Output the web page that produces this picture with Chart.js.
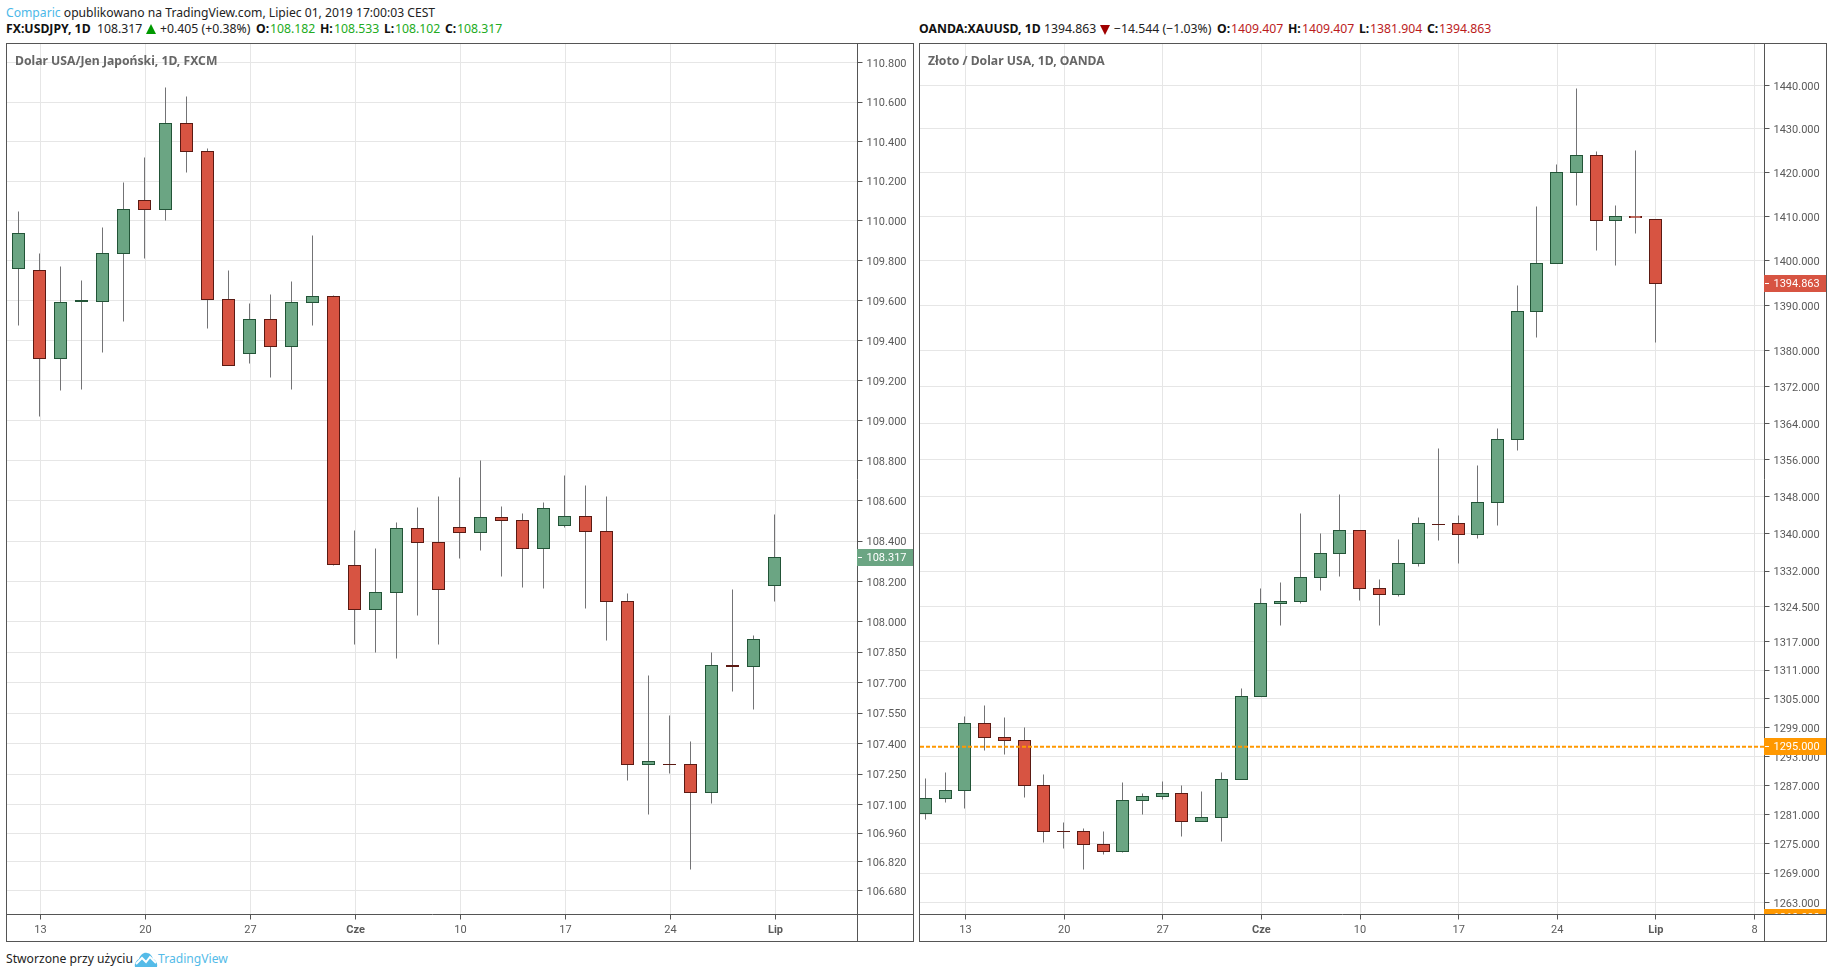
<!DOCTYPE html>
<html lang="pl">
<head>
<meta charset="utf-8">
<title>USDJPY / XAUUSD</title>
<script src="https://cdn.jsdelivr.net/npm/chart.js@4/dist/chart.umd.js"></script>
<style>
html,body{margin:0;padding:0;background:#fff;width:1833px;height:978px;overflow:hidden}
body{position:relative;font-family:"Noto Sans","Open Sans",sans-serif;color:#222}
.t{position:absolute;white-space:nowrap;font-size:12.25px;line-height:16px}
.b{font-weight:700;color:#111}
.g{color:#22ab22}.r{color:#bb1c1c}
.frame{position:absolute;top:43px;width:908px;height:899px;box-sizing:border-box;border:1px solid #555}
.frame canvas{position:absolute;left:0;top:0;display:block}
.title{position:absolute;top:51.5px;font-weight:700;font-size:12.2px;line-height:18px;color:#666;white-space:nowrap}
.tri{position:absolute;width:0;height:0;border-left:5.2px solid transparent;border-right:5.2px solid transparent}
</style>
</head>
<body>
<div class="t" style="left:6px;top:5px;font-size:12.15px;color:#222"><span style="color:#4cb8e8">Comparic</span> opublikowano na TradingView.com, Lipiec 01, 2019 17:00:03 CEST</div>

<div class="t b" style="left:6px;top:21px">FX:USDJPY, 1D</div>
<div class="t" style="left:97px;top:21px">108.317</div>
<div class="tri" style="left:146px;top:24px;border-bottom:10px solid #009900"></div>
<div class="t" style="left:160px;top:21px">+0.405 (+0.38%)</div>
<div class="t b" style="left:256px;top:21px">O:</div><div class="t g" style="left:270px;top:21px">108.182</div>
<div class="t b" style="left:320px;top:21px">H:</div><div class="t g" style="left:334px;top:21px">108.533</div>
<div class="t b" style="left:384px;top:21px">L:</div><div class="t g" style="left:395px;top:21px">108.102</div>
<div class="t b" style="left:445px;top:21px">C:</div><div class="t g" style="left:457px;top:21px">108.317</div>

<div class="t b" style="left:919px;top:21px">OANDA:XAUUSD, 1D</div>
<div class="t" style="left:1044px;top:21px">1394.863</div>
<div class="tri" style="left:1100px;top:25px;border-top:10px solid #a00000"></div>
<div class="t" style="left:1114px;top:21px">−14.544 (−1.03%)</div>
<div class="t b" style="left:1217px;top:21px">O:</div><div class="t r" style="left:1231px;top:21px">1409.407</div>
<div class="t b" style="left:1288px;top:21px">H:</div><div class="t r" style="left:1302px;top:21px">1409.407</div>
<div class="t b" style="left:1359px;top:21px">L:</div><div class="t r" style="left:1370px;top:21px">1381.904</div>
<div class="t b" style="left:1427px;top:21px">C:</div><div class="t r" style="left:1439px;top:21px">1394.863</div>

<div class="frame" style="left:6px"><canvas id="usd" width="906" height="897" style="width:906px;height:897px"></canvas></div>
<div class="frame" style="left:919px"><canvas id="xau" width="906" height="897" style="width:906px;height:897px"></canvas></div>
<div class="title" style="left:15px">Dolar USA/Jen Japoński, 1D, FXCM</div>
<div class="title" style="left:928px">Złoto / Dolar USA, 1D, OANDA</div>

<div class="t" style="left:6px;top:951px;font-size:12.15px;color:#222">Stworzone przy użyciu</div>
<svg style="position:absolute;left:134px;top:952px" width="24" height="16" viewBox="0 0 24 16">
<path d="M1 15 C0 11 3 8 5 7 C6 3 10 0 13 1 C16 1 18 4 19 7 C22 8 24 12 23 15 Z" fill="#54bbe8"/>
<path d="M2 12 L8 6 L12 10 L16 5 L22 11" fill="none" stroke="#fff" stroke-width="2"/>
</svg>
<div class="t" style="left:158px;top:951px;font-size:12.15px;color:#54bbe8">TradingView</div>

<script>
/* USD/JPY daily candles */
const usdOpen  = [109.761,109.751,109.310,109.592,109.596,109.836,110.103,110.057,110.493,110.351,109.606,109.335,109.506,109.370,109.591,109.621,108.280,108.061,108.146,108.463,108.394,108.468,108.443,108.518,108.503,108.364,108.478,108.523,108.448,108.101,107.298,107.300,107.298,107.160,107.785,107.780,108.182];
const usdHigh  = [110.049,109.838,109.773,109.702,109.968,110.195,110.317,110.671,110.626,110.366,109.748,109.587,109.632,109.697,109.928,109.626,108.450,108.361,108.490,108.564,108.619,108.718,108.802,108.569,108.539,108.589,108.724,108.678,108.619,108.141,107.737,107.540,107.412,107.850,108.160,107.934,108.533];
const usdLow   = [109.473,109.021,109.148,109.153,109.338,109.493,109.809,110.003,110.243,109.458,109.275,109.283,109.213,109.153,109.473,108.278,107.886,107.847,107.817,108.029,107.886,108.312,108.352,108.223,108.168,108.163,108.465,108.064,107.906,107.217,107.050,107.251,106.781,107.104,107.655,107.567,108.102];
const usdClose = [109.936,109.310,109.591,109.600,109.836,110.057,110.057,110.493,110.351,109.606,109.275,109.506,109.370,109.591,109.621,108.285,108.061,108.146,108.463,108.394,108.160,108.443,108.518,108.503,108.364,108.563,108.523,108.448,108.101,107.298,107.313,107.295,107.160,107.785,107.779,107.913,108.317];
const usdTicks = [110.8,110.6,110.4,110.2,110,109.8,109.6,109.4,109.2,109,108.8,108.6,108.4,108.2,108,107.85,107.7,107.55,107.4,107.25,107.1,106.96,106.82,106.68];
const usdDateIndex  = [1,6,11,16,21,26,31,36];
const usdDateLabels = ["13","20","27","Cze","10","17","24","Lip"];

/* XAU/USD daily candles */
const xauOpen  = [1281.3,1284.2,1286.0,1299.8,1297.0,1296.3,1286.9,1277.6,1277.6,1274.9,1273.5,1283.8,1284.8,1285.4,1279.5,1280.3,1288.3,1305.4,1325.1,1325.6,1330.7,1335.8,1340.7,1328.3,1327.0,1333.6,1342.2,1342.2,1339.8,1346.8,1360.4,1388.6,1399.4,1419.9,1423.8,1409.2,1410.1,1409.407];
const xauHigh  = [1288.4,1289.6,1301.4,1303.5,1301.0,1298.9,1289.2,1279.3,1278.1,1277.5,1287.5,1285.4,1287.8,1286.9,1285.7,1289.6,1307.1,1328.4,1329.5,1344.3,1340.1,1348.4,1340.7,1330.2,1338.8,1343.5,1358.5,1343.9,1354.7,1362.9,1394.4,1412.3,1421.8,1439.4,1424.7,1412.5,1425.0,1409.407];
const xauLow   = [1280.0,1283.5,1282.3,1294.2,1293.4,1284.5,1275.3,1274.0,1269.7,1272.8,1273.2,1281.0,1284.1,1276.5,1279.5,1275.5,1288.3,1305.4,1320.4,1325.1,1327.8,1330.8,1325.7,1320.4,1326.5,1332.9,1338.5,1333.6,1339.1,1341.9,1358.1,1383.0,1399.4,1412.6,1402.3,1398.9,1406.2,1381.904];
const xauClose = [1284.2,1286.0,1299.8,1297.0,1296.3,1286.9,1277.6,1277.4,1274.9,1273.5,1283.8,1284.8,1285.4,1279.5,1280.3,1288.3,1305.4,1325.1,1325.6,1330.7,1335.8,1340.7,1328.3,1327.0,1333.6,1342.2,1342.0,1339.8,1346.8,1360.4,1388.6,1399.4,1419.9,1423.8,1409.2,1410.1,1409.7,1394.863];
const xauTicks = [1440,1430,1420,1410,1400,1390,1380,1372,1364,1356,1348,1340,1332,1324.5,1317,1311,1305,1299,1293,1287,1281,1275,1269,1263];
const xauDateIndex  = [2,7,12,17,22,27,32,37,42];
const xauDateLabels = ["13","20","27","Cze","10","17","24","Lip","8"];
const xauAlertLevel = 1295;

const UP="#6ba583", DOWN="#d75442", UP_B="#225437", DOWN_B="#5b1a13", WICK="#737375", GRID="#e6e6e6", AXIS="#555555", AXIS_TXT="#5a5a5a", ALERT="#ff9800";
const FONT='Roboto, "Noto Sans", sans-serif';

const snapPlugin = {
  id:'snap',
  beforeDatasetsDraw(chart,args,opts){
    chart.data.datasets.forEach((ds,di)=>{
      if(ds.role==='line') return;
      chart.getDatasetMeta(di).data.forEach((el,i)=>{
        el.x=Math.floor(el.x)+.5;
        if(ds.role==='body' && opts.isDoji(i)){
          const top=Math.round(Math.min(el.y,el.base)); let bot=Math.round(Math.max(el.y,el.base));
          if(bot===top) bot=top+1;
          el.y=top; el.base=bot; el.inflateAmount=0; el.width=13;
        } else {
          el.y=Math.floor(el.y)+.5; el.base=Math.floor(el.base)+.5;
        }
      });
    });
  },
  afterDraw(chart,args,opts){
    const {ctx,chartArea:a,width,height}=chart, s=chart.scales.y;
    ctx.save();
    ctx.strokeStyle=AXIS; ctx.lineWidth=1;
    ctx.beginPath();
    ctx.moveTo(a.right,a.bottom); ctx.lineTo(width,a.bottom);
    ctx.moveTo(a.right,a.bottom); ctx.lineTo(a.right,height);
    ctx.stroke();
    ctx.beginPath(); ctx.rect(a.right-.5,0,width-a.right+.5,a.bottom-.5); ctx.clip();
    opts.tags.forEach(t=>{
      const y=Math.floor(s.getPixelForValue(t.value))+.5;
      ctx.fillStyle=t.color;
      ctx.fillRect(a.right-.5,y-8.5,width-a.right+.5,17);
      ctx.fillStyle='#fff';
      ctx.fillRect(a.right+.5,y-.5,4,1);
      ctx.font='11px '+FONT; ctx.textAlign='left'; ctx.textBaseline='middle';
      ctx.fillText(t.value.toFixed(3),a.right+9,y+.5);
    });
    ctx.restore();
  }
};

function candleChart(id,cfg){
  const {open,high,low,close,ticks,dateIndex,dateLabels,xMin,xMax,yMin,yMax,axisW,nudge,dojiLimit,tags,alert}=cfg;
  const isDoji=i=>Math.abs(open[i]-close[i])<dojiLimit;
  const up=i=>close[i]>=open[i];
  const datasets=[
    {role:'wick',type:'bar',order:3,grouped:false,barThickness:1,inflateAmount:0,borderWidth:0,
     backgroundColor:WICK,
     data:high.map((h,i)=>({x:i,y:[low[i],h]}))},
    {role:'body',type:'bar',order:2,grouped:false,barThickness:12,inflateAmount:.5,borderWidth:1,borderSkipped:false,
     backgroundColor:open.map((o,i)=>isDoji(i)?(up(i)?UP_B:DOWN_B):(up(i)?UP:DOWN)),
     borderColor:open.map((o,i)=>up(i)?UP_B:DOWN_B),
     data:open.map((o,i)=>({x:i,y:[o,close[i]]}))}
  ];
  if(alert!==undefined) datasets.push({role:'line',type:'line',order:1,borderColor:ALERT,borderWidth:2,borderDash:[4,2],pointRadius:0,
     data:[{x:xMin,y:alert},{x:xMax,y:alert}]});
  return new Chart(document.getElementById(id),{
    type:'bar',
    data:{datasets},
    options:{
      responsive:false,animation:false,devicePixelRatio:1,
      layout:{padding:0},
      plugins:{legend:{display:false},tooltip:{enabled:false},title:{display:false},snap:{tags,isDoji}},
      scales:{
        x:{type:'linear',min:xMin,max:xMax,offset:false,bounds:'data',
           afterFit(s){s.height=26.5;s.paddingLeft=0;s.paddingRight=0;},
           afterBuildTicks(s){s.ticks=dateIndex.map(v=>({value:v+nudge}));},
           grid:{color:GRID,tickColor:AXIS,tickLength:5,lineWidth:1,offset:false},
           border:{display:true,color:AXIS,width:1},
           ticks:{autoSkip:false,maxRotation:0,minRotation:0,padding:4,color:AXIS_TXT,
             font:c=>({family:FONT,size:11,weight:/^[A-Z]/.test(dateLabels[c.index]||'')?'700':'400'}),
             callback:(v,i)=>dateLabels[i]}},
        y:{type:'logarithmic',position:'right',min:yMin,max:yMax,bounds:'data',
           afterFit(s){s.width=axisW;s.paddingTop=0;s.paddingBottom=0;},
           afterBuildTicks(s){s.ticks=ticks.map(v=>({value:v}));},
           grid:{color:GRID,tickColor:AXIS,tickLength:5,lineWidth:1},
           border:{display:true,color:AXIS,width:1},
           ticks:{autoSkip:false,padding:4,labelOffset:1.5,color:AXIS_TXT,font:{family:FONT,size:11},
             callback:v=>Number(v).toFixed(3)}}
      }
    },
    plugins:[snapPlugin]
  });
}

candleChart('usd',{open:usdOpen,high:usdHigh,low:usdLow,close:usdClose,ticks:usdTicks,dateIndex:usdDateIndex,dateLabels:usdDateLabels,
  xMin:-0.5476,xMax:39.952,yMin:106.563,yMax:110.894,axisW:55.5,nudge:0.0476,dojiLimit:0.01,
  tags:[{value:108.317,color:UP}]});
candleChart('xau',{open:xauOpen,high:xauHigh,low:xauLow,close:xauClose,ticks:xauTicks,dateIndex:xauDateIndex,dateLabels:xauDateLabels,
  xMin:-0.279,xMax:42.535,yMin:1260.6,yMax:1449.6,axisW:61.5,nudge:0.028,dojiLimit:0.25,alert:xauAlertLevel,
  tags:[{value:1394.863,color:DOWN},{value:1295,color:ALERT},{value:1260,color:ALERT}]});
</script>
</body>
</html>
